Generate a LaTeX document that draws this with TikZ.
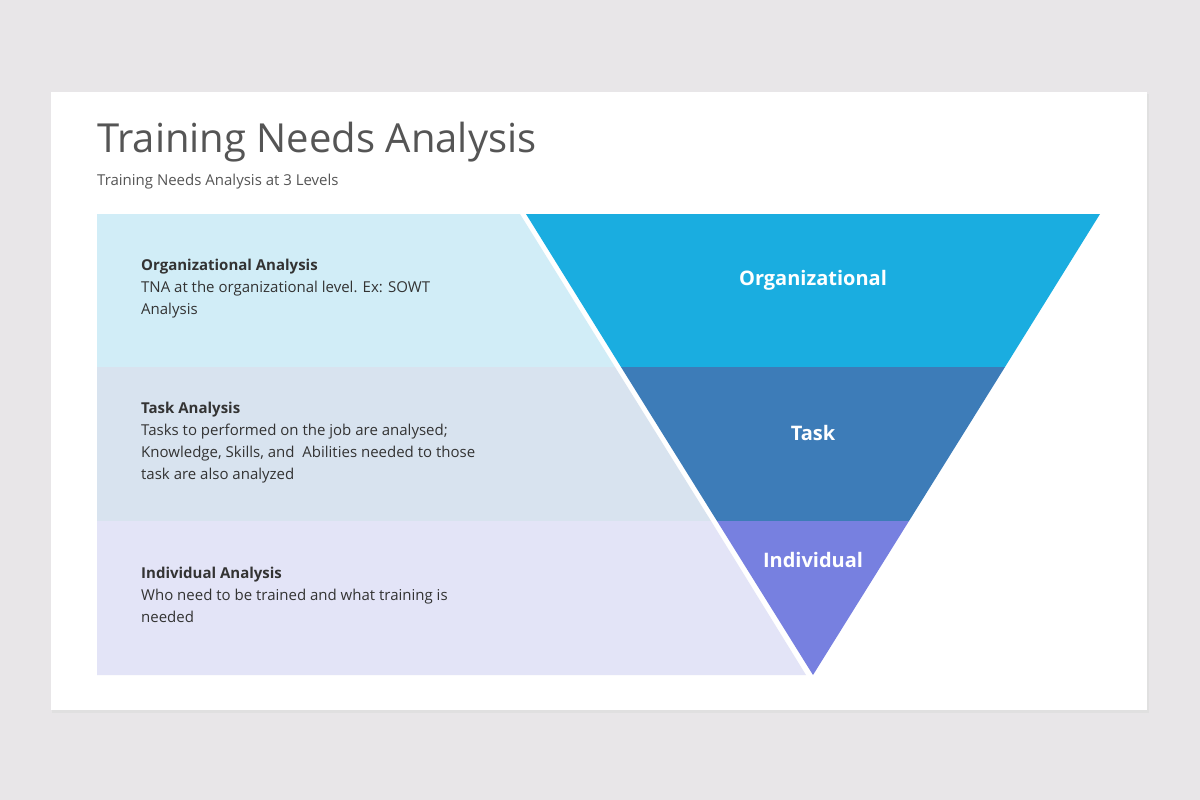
\documentclass[tikz,border=0pt]{standalone}
\usepackage{fontspec}
\setmainfont{Open Sans}
\definecolor{pagebg}{HTML}{E8E6E8}
\definecolor{titlecol}{HTML}{555555}
\definecolor{textcol}{HTML}{333333}
\definecolor{orgcol}{HTML}{1AADE0}
\definecolor{taskcol}{HTML}{3D7CB8}
\definecolor{indcol}{HTML}{7780E0}
\definecolor{orgband}{HTML}{D1EDF7}
\definecolor{taskband}{HTML}{D8E3EF}
\definecolor{indband}{HTML}{E3E4F7}
\tikzset{
  level label/.style={text=white,font=\bfseries\fontsize{20}{24}\selectfont},
  band text/.style={anchor=north west,align=left,text=textcol,
    font=\fontsize{15}{22}\selectfont,inner sep=0pt},
}
\begin{document}
\begin{tikzpicture}[x=1pt,y=-1pt]
      % background and card
      \fill[pagebg] (0,0) rectangle (1200,800);
      \fill[black!12] (52,94) rectangle (1149,713);
      \fill[white] (51,92) rectangle (1147,710);
      % title
      \node[anchor=west,text=titlecol,font=\fontsize{40}{48}\selectfont,inner sep=0pt] (title) at (97,142) {Training Needs Analysis};
      \node[anchor=west,text=titlecol,font=\fontsize{15}{18}\selectfont,inner sep=0pt] (subtitle) at (97,182) {Training Needs Analysis at 3 Levels};
      % bands
      \fill[orgband] (97,214) -- (520,214) -- (615,367) -- (97,367) -- cycle;
      \fill[taskband] (97,367) -- (615,367) -- (711,521) -- (97,521) -- cycle;
      \fill[indband] (97,521) -- (711,521) -- (806,675) -- (97,675) -- cycle;
      % funnel
      \fill[orgcol] (526,214) -- (1100,214) -- (1005,367) -- (621,367) -- cycle;
      \fill[taskcol] (621,367) -- (1005,367) -- (909,521) -- (717,521) -- cycle;
      \fill[indcol] (717,521) -- (909,521) -- (813,675) -- cycle;
      \node[level label] (org) at (813,280) {Organizational};
      \node[level label] (task) at (813,433) {Task};
      \node[level label] (ind) at (813,560) {Individual};
      % band texts
      \node[band text] (orgtext) at (141,259) {\textbf{Organizational Analysis}\\TNA at the organizational level. Ex: SOWT\\Analysis};
      \node[band text] (tasktext) at (141,402) {\textbf{Task Analysis}\\Tasks to performed on the job are analysed;\\Knowledge, Skills, and\ \ Abilities needed to those\\task are also analyzed};
      \node[band text] (indtext) at (141,567) {\textbf{Individual Analysis}\\Who need to be trained and what training is\\needed};
\end{tikzpicture}
\end{document}
